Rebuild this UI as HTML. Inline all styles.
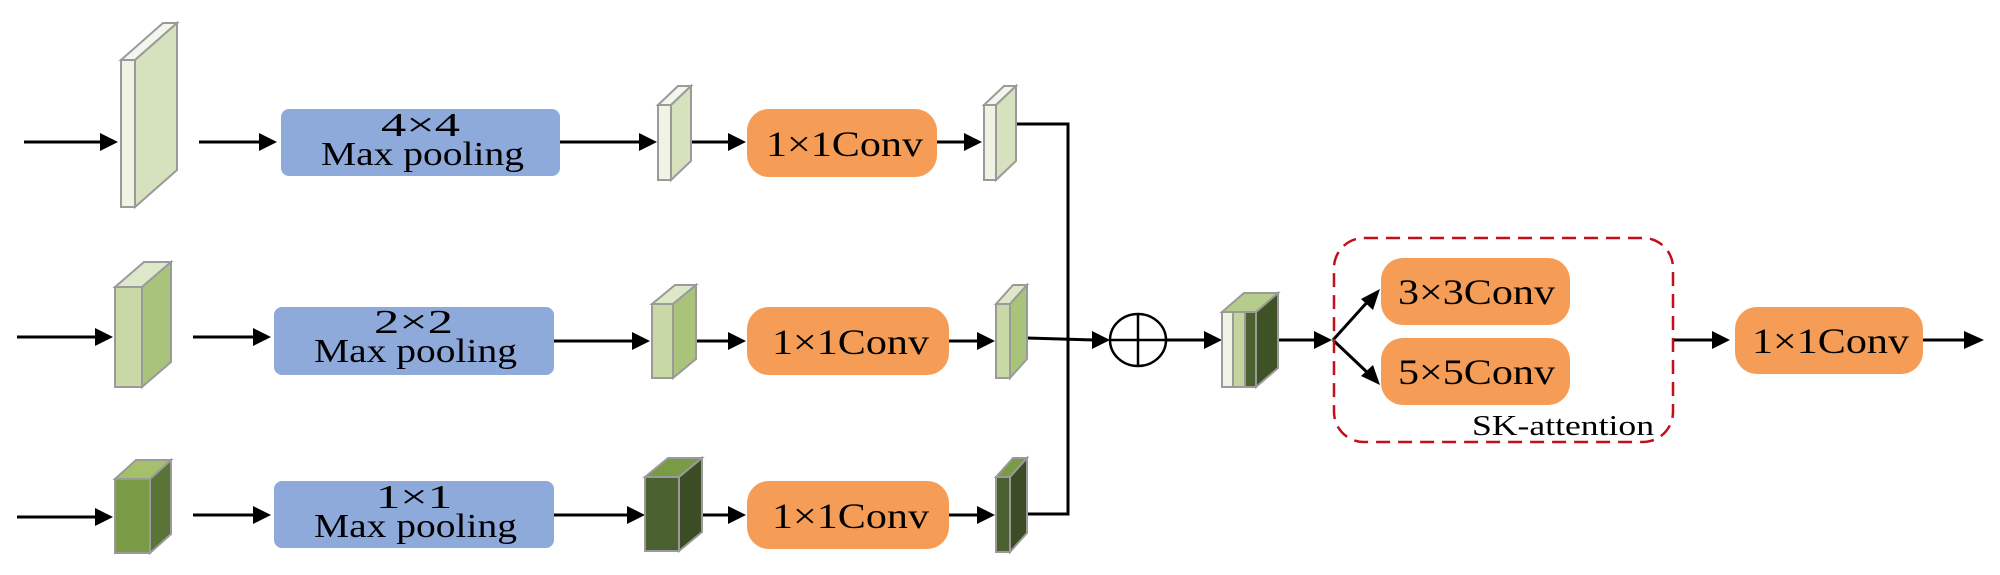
<!DOCTYPE html>
<html><head><meta charset="utf-8"><style>html,body{margin:0;padding:0;background:#fff}svg{display:block}</style></head>
<body>
<svg width="2000" height="575" viewBox="0 0 2000 575" xmlns="http://www.w3.org/2000/svg" font-family="Liberation Serif, serif">
<defs>
<marker id="a" markerWidth="8" markerHeight="8" refX="7" refY="4" orient="auto" markerUnits="userSpaceOnUse" viewBox="0 0 8 8">
</marker>
</defs>
<g stroke="#000" stroke-width="3" fill="none">
<!-- row1 -->
<line x1="24" y1="142" x2="102" y2="142"/><line x1="199" y1="142" x2="261" y2="142"/>
<line x1="560" y1="142" x2="641" y2="142"/><line x1="691" y1="142" x2="730" y2="142"/>
<line x1="937" y1="142" x2="966" y2="142"/>
<polyline points="1016,124 1068,124 1068,514 1027,514"/>
<!-- row2 -->
<line x1="17" y1="337" x2="98" y2="337"/><line x1="193" y1="337" x2="255" y2="337"/>
<line x1="554" y1="341" x2="634" y2="341"/><line x1="696" y1="341" x2="730" y2="341"/>
<line x1="949" y1="341" x2="979" y2="341"/>
<line x1="1027" y1="338" x2="1094" y2="340"/>
<line x1="1167" y1="340" x2="1206" y2="340"/>
<line x1="1278" y1="340" x2="1316" y2="340"/>
<line x1="1333" y1="340" x2="1370" y2="299"/>
<line x1="1333" y1="340" x2="1370" y2="375"/>
<line x1="1673" y1="340" x2="1714" y2="340"/>
<line x1="1923" y1="340" x2="1966" y2="340"/>
<!-- row3 -->
<line x1="17" y1="517" x2="98" y2="517"/><line x1="193" y1="515" x2="255" y2="515"/>
<line x1="554" y1="515" x2="628" y2="515"/><line x1="702" y1="515" x2="730" y2="515"/>
<line x1="949" y1="515" x2="979" y2="515"/>
</g>
<g fill="#000">
<polygon points="118,142 100,133 100,151"/><polygon points="277,142 259,133 259,151"/>
<polygon points="657,142 639,133 639,151"/><polygon points="746,142 728,133 728,151"/>
<polygon points="982,142 964,133 964,151"/>
<polygon points="113,337 95,328 95,346"/><polygon points="271,337 253,328 253,346"/>
<polygon points="650,341 632,332 632,350"/><polygon points="746,341 728,332 728,350"/>
<polygon points="995,341 977,332 977,350"/>
<polygon points="1110,340 1092,331 1092,349"/><polygon points="1222,340 1204,331 1204,349"/>
<polygon points="1332,340 1314,331 1314,349"/>
<polygon points="1380,289 1373,310 1361,299"/>
<polygon points="1380,385 1361,376 1373,365"/>
<polygon points="1730,340 1712,331 1712,349"/><polygon points="1984,340 1964,331 1964,349"/>
<polygon points="113,517 95,508 95,526"/><polygon points="271,515 253,506 253,524"/>
<polygon points="645,515 627,506 627,524"/><polygon points="746,515 728,506 728,524"/>
<polygon points="995,515 977,506 977,524"/>
</g>
<!-- slabs -->
<g stroke="#9a9a9a" stroke-width="2">
<!-- row1 big -->
<polygon points="121,60 163,23 177,23 135,60" fill="#f3f6ec"/>
<polygon points="135,60 177,23 177,170 135,207" fill="#d5e2bd"/>
<rect x="121" y="60" width="14" height="147" fill="#eef3e4"/>
<!-- row1 small -->
<polygon points="658,105 678,86 691,86 671,105" fill="#f3f6ec"/>
<polygon points="671,105 691,86 691,161 671,180" fill="#d5e2bd"/>
<rect x="658" y="105" width="13" height="75" fill="#eef3e4"/>
<polygon points="984,105 1004,86 1016,86 996,105" fill="#f3f6ec"/>
<polygon points="996,105 1016,86 1016,161 996,180" fill="#d5e2bd"/>
<rect x="984" y="105" width="12" height="75" fill="#eef3e4"/>
<!-- row2 -->
<polygon points="115,287 144,262 171,262 142,287" fill="#dde8c8"/>
<polygon points="142,287 171,262 171,362 142,387" fill="#a9c47a"/>
<rect x="115" y="287" width="27" height="100" fill="#c8d9a6"/>
<polygon points="652,304 675,285 696,285 673,304" fill="#dde8c8"/>
<polygon points="673,304 696,285 696,359 673,378" fill="#a9c47a"/>
<rect x="652" y="304" width="21" height="74" fill="#c8d9a6"/>
<polygon points="996,304 1013,285 1027,285 1010,304" fill="#dde8c8"/>
<polygon points="1010,304 1027,285 1027,359 1010,378" fill="#a9c47a"/>
<rect x="996" y="304" width="14" height="74" fill="#c8d9a6"/>
<!-- stack -->
<polygon points="1222,312 1244,293 1278,293 1256,312" fill="#b6cc8a"/>
<polygon points="1256,312 1278,293 1278,368 1256,387" fill="#3f5226"/>
<rect x="1222" y="312" width="11" height="75" fill="#eef3e4"/>
<rect x="1233" y="312" width="12" height="75" fill="#c3d59d"/>
<rect x="1245" y="312" width="11" height="75" fill="#4b6130"/>
<!-- row3 -->
<polygon points="115,479 136,460 171,460 150,479" fill="#a5c06a"/>
<polygon points="150,479 171,460 171,534 150,553" fill="#5a7437"/>
<rect x="115" y="479" width="35" height="74" fill="#7a9a45"/>
<polygon points="645,477 668,458 702,458 679,477" fill="#7a9a45"/>
<polygon points="679,477 702,458 702,532 679,551" fill="#3c4d25"/>
<rect x="645" y="477" width="34" height="74" fill="#4b6130"/>
<polygon points="996,477 1013,458 1027,458 1010,477" fill="#7a9a45"/>
<polygon points="1010,477 1027,458 1027,533 1010,552" fill="#3c4d25"/>
<rect x="996" y="477" width="14" height="75" fill="#4b6130"/>
</g>
<!-- circle plus -->
<g stroke="#000" stroke-width="2.5" fill="#fff">
<ellipse cx="1138" cy="340" rx="28" ry="26"/>
<line x1="1110" y1="340" x2="1166" y2="340"/><line x1="1138" y1="314" x2="1138" y2="366"/>
</g>
<!-- dashed box -->
<rect x="1334" y="238" width="339" height="204" rx="30" fill="none" stroke="#c0101c" stroke-width="2.5" stroke-dasharray="14,8"/>
<!-- blue boxes -->
<g fill="#8eaadb">
<rect x="281" y="109" width="279" height="67" rx="8"/>
<rect x="274" y="307" width="280" height="68" rx="8"/>
<rect x="274" y="481" width="280" height="67" rx="8"/>
</g>
<!-- orange -->
<g fill="#f59d56">
<rect x="747" y="109" width="190" height="68" rx="22"/>
<rect x="747" y="307" width="202" height="68" rx="22"/>
<rect x="747" y="481" width="202" height="68" rx="22"/>
<rect x="1381" y="258" width="189" height="67" rx="22"/>
<rect x="1381" y="338" width="189" height="67" rx="22"/>
<rect x="1735" y="307" width="188" height="67" rx="22"/>
</g>
<g fill="#000" font-size="34">
<text x="381" y="136" textLength="79" lengthAdjust="spacingAndGlyphs">4×4</text>
<text x="321" y="165" textLength="203" lengthAdjust="spacingAndGlyphs">Max pooling</text>
<text x="374" y="333" textLength="79" lengthAdjust="spacingAndGlyphs">2×2</text>
<text x="314" y="362" textLength="203" lengthAdjust="spacingAndGlyphs">Max pooling</text>
<text x="376" y="508" textLength="76" lengthAdjust="spacingAndGlyphs">1×1</text>
<text x="314" y="537" textLength="203" lengthAdjust="spacingAndGlyphs">Max pooling</text>
</g>
<g fill="#000" font-size="36">
<text x="766" y="156" textLength="157" lengthAdjust="spacingAndGlyphs">1×1Conv</text>
<text x="772" y="354" textLength="157" lengthAdjust="spacingAndGlyphs">1×1Conv</text>
<text x="772" y="528" textLength="157" lengthAdjust="spacingAndGlyphs">1×1Conv</text>
<text x="1398" y="304" textLength="157" lengthAdjust="spacingAndGlyphs">3×3Conv</text>
<text x="1398" y="384" textLength="157" lengthAdjust="spacingAndGlyphs">5×5Conv</text>
<text x="1752" y="353" textLength="157" lengthAdjust="spacingAndGlyphs">1×1Conv</text>
</g>
<text x="1472" y="435" font-size="28" textLength="182" lengthAdjust="spacingAndGlyphs" fill="#000">SK-attention</text>
</svg>
</body></html>
